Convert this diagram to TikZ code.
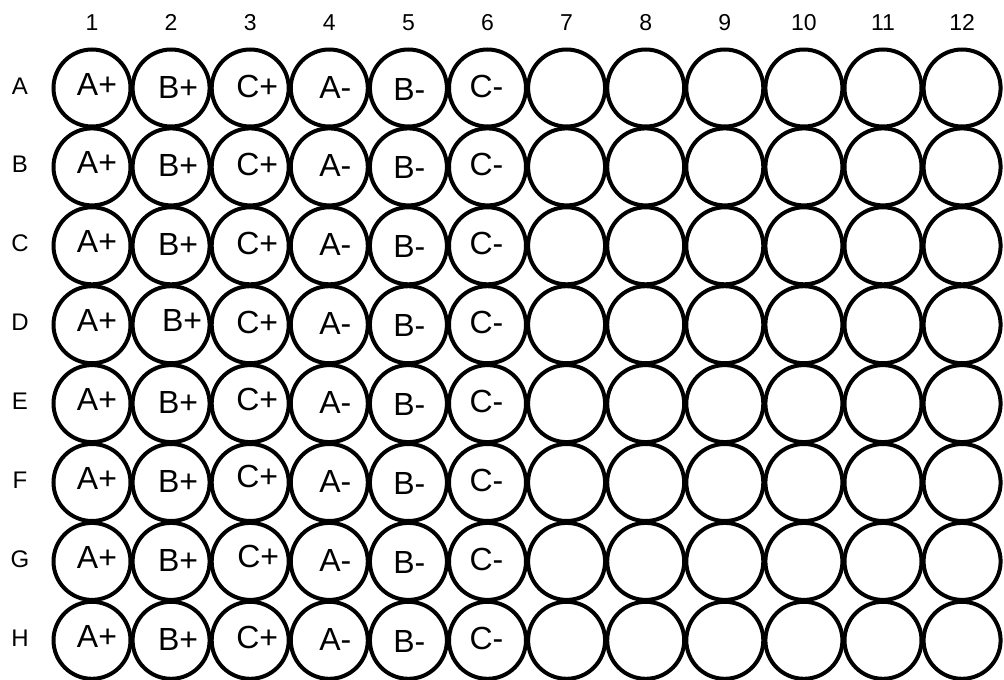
\documentclass[tikz,border=0pt]{standalone}
\usepackage{fontspec}
\setmainfont{Liberation Sans}
\usepackage{tikz}
\usetikzlibrary{positioning,calc}

\begin{document}
\begin{tikzpicture}[x=1pt,y=-1pt,
  well/.style={draw=black,line width=4pt,circle,minimum size=77pt,inner sep=0pt,fill=white},
  smp/.style={font=\fontsize{32}{34}\selectfont,inner sep=0pt,anchor=base},
  hdr/.style={font=\fontsize{23}{25}\selectfont,inner sep=0pt,anchor=base},
  rowhdr/.style={font=\fontsize{24}{26}\selectfont,inner sep=0pt,anchor=base}]

  \useasboundingbox[fill=white] (0,0) rectangle (1004,680);

  % column numbers
  \foreach \c in {1,...,12}
    \node[hdr] (col\c) at ({92+79.1*(\c-1)},30) {\c};

  % rows of wells
  \foreach \r [count=\i] in {A,B,C,D,E,F,G,H} {
    \node[rowhdr] (row\r) at (20,{94+78.9*(\i-1)}) {\r};
    \foreach \c in {1,...,12}
      \node[well] (w\r\c) at ({92+79.1*(\c-1)},{88+78.9*(\i-1)}) {};
  }

  % sample labels (B+ and C+ sit a little differently in some rows)
  \foreach \r/\bx/\by/\cx/\cy in {A/7/10/7/9,B/7/10/7/9,C/7/10/7/9,D/11/7/7/9,
                                  E/7/10/7/7,F/7/10/7/5,G/7/10/8/6,H/7/10/7/8} {
    \node[smp] (s\r1) at ($(w\r1)+(5,7)$) {A+};
    \node[smp] (s\r2) at ($(w\r2)+(\bx,\by)$) {B+};
    \node[smp] (s\r3) at ($(w\r3)+(\cx,\cy)$) {C+};
    \node[smp] (s\r4) at ($(w\r4)+(6,10)$) {A-};
    \node[smp] (s\r5) at ($(w\r5)+(1,12)$) {B-};
    \node[smp] (s\r6) at ($(w\r6)+(-1,9)$) {C-};
  }
\end{tikzpicture}
\end{document}
